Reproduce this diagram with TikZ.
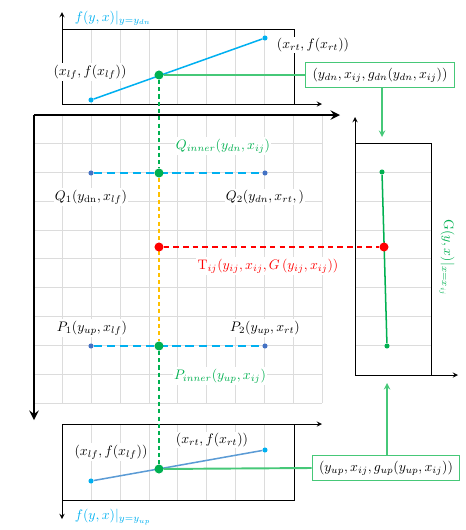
\documentclass[tikz,border=0pt]{standalone}
\usetikzlibrary{backgrounds}
\definecolor{skyb}{RGB}{0,176,240}
\definecolor{lineb}{RGB}{91,155,213}
\definecolor{dotb}{RGB}{68,114,196}
\definecolor{dotg}{RGB}{0,176,80}
\definecolor{boxg}{RGB}{70,200,120}
\definecolor{gold}{RGB}{255,192,0}
\definecolor{gridc}{RGB}{220,220,220}
\tikzset{
  gridl/.style={gridc, line width=0.7pt},
  panel/.style={line width=0.7pt},
  mainax/.style={->, line width=2pt},
  lbl/.style={fill=white, inner sep=1pt},
  bigdot/.style={circle, fill=#1, inner sep=0pt, minimum size=0.23cm},
  smalldot/.style={circle, fill=#1, inner sep=0pt, minimum size=0.13cm},
  gbox/.style={draw=boxg, line width=0.9pt, fill=white, inner xsep=5pt, inner ysep=3pt, minimum height=0.64cm},
  bdash/.style={skyb, line width=1.7pt, dash pattern=on 6pt off 3.5pt},
  vdash/.style={line width=0.8pt, dash pattern=on 3pt off 2.3pt},
}
\begin{document}
\begin{tikzpicture}[>=stealth, x=0.0255cm, y=-0.0255cm]
\useasboundingbox (0,0) rectangle (466,530);

% points
\node[bigdot=dotg](Gdn) at (159,75){};
\node[smalldot=skyb](Alf) at (91,100){};
\node[smalldot=skyb](Art) at (265,38){};
\node[bigdot=dotg](Qin) at (159,173){};
\node[smalldot=dotb](Q1) at (91,173){};
\node[smalldot=dotb](Q2) at (265,173){};
\node[bigdot=red](T) at (159,247){};
\node[bigdot=dotg](Pin) at (159,346){};
\node[smalldot=dotb](P1) at (91,346){};
\node[smalldot=dotb](P2) at (265,346){};
\node[bigdot=dotg](Gup) at (159,469){};
\node[smalldot=skyb](Blf) at (91,481){};
\node[smalldot=skyb](Brt) at (265,450){};
\node[smalldot=dotg](Rtop) at (382,172){};
\node[smalldot=dotg](Rbot) at (387,346){};
\node[bigdot=red](R) at (384,247){};

% labels
\node[text=skyb, anchor=west](fdn) at (70,18){$f(y,x)|_{y=y_{dn}}$};
\node[lbl](Llf) at (90,72){$(x_{lf},f(x_{lf}))$};
\node[lbl](Lrt) at (313,45){$(x_{rt},f(x_{rt}))$};
\node[gbox](gdn) at (380,75){$(y_{dn},x_{ij},g_{dn}(y_{dn},x_{ij}))$};
\node[lbl, text=dotg](LQin) at (223,146){$Q_{inner}(y_{dn},x_{ij})$};
\node[lbl](LQ1) at (91,197){$Q_1(y_{\mathrm{dn}},x_{lf})$};
\node[lbl](LQ2) at (265,197){$Q_2(y_{dn},x_{rt},)$};
\node[lbl, text=red](LT) at (268,266){$\mathrm{T}_{ij}(y_{ij},x_{ij},G\left(y_{ij},x_{ij}\right))$};
\node[lbl](LP1) at (92,328){$P_1(y_{up},x_{lf})$};
\node[lbl](LP2) at (265,328){$P_2(y_{up},x_{rt})$};
\node[lbl, text=dotg](LPin) at (220,376){$P_{inner}(y_{up},x_{ij})$};
\node[lbl](Mlf) at (111,452){$(x_{lf},f(x_{lf}))$};
\node[lbl](Mrt) at (212,440){$(x_{rt},f(x_{rt}))$};
\node[text=skyb, anchor=west](fup) at (70,517){$f(y,x)|_{y=y_{up}}$};
\node[gbox](gup) at (386,468){$(y_{up},x_{ij},g_{up}(y_{up},x_{ij}))$};
\node[text=dotg, rotate=-90](LG) at (447,258){$\mathrm{G}(y,x)|_{x=x_{ij}}$};

\coordinate (Rin) at (382,137);
\coordinate (Rout) at (387,383);

\begin{scope}[on background layer]
% grids
\foreach \x in {91.4,120.2,149.1,177.9,206.8,235.6,264.5}{
  \draw[gridl] (\x,29) -- (\x,104);
  \draw[gridl] (\x,424) -- (\x,500);
}
\foreach \k in {0,...,9}{
  \draw[gridl] (62.5+28.85*\k,115) -- (62.5+28.85*\k,403);
  \draw[gridl] (34,143.5+28.85*\k) -- (322,143.5+28.85*\k);
}
\foreach \k in {1,...,7}{
  \draw[gridl] (355,143.5+28.85*\k) -- (431,143.5+28.85*\k);
}

% top panel
\draw[panel,->] (62,104) -- (62,12);
\draw[panel,->] (62,104) -- (322,104);
\draw[panel] (62,29) -- (294,29) -- (294,104);
% bottom panel
\draw[panel,->] (62,424) -- (62,519);
\draw[panel,->] (62,424) -- (322,424);
\draw[panel] (62,500) -- (294,500) -- (294,424);
% right panel
\draw[panel,->] (355,375) -- (355,117);
\draw[panel,->] (355,375) -- (458,375);
\draw[panel] (355,143) -- (431,143) -- (431,375);
% main axes
\draw[mainax] (34,115) -- (340,115);
\draw[mainax] (34,115) -- (34,420);

% curves
\draw[skyb, line width=1.1pt] (Alf) -- (Art);
\draw[lineb, line width=1.1pt] (Blf) -- (Brt);
\draw[dotg, line width=1.1pt] (Rtop) -- (Rbot);

% connectors
\draw[bdash] (Q1) -- (Q2);
\draw[bdash] (P1) -- (P2);
\draw[vdash, dotg] (Gdn) -- (Qin);
\draw[vdash, gold] (Qin) -- (Pin);
\draw[vdash, dotg] (Pin) -- (Gup);
\draw[red, line width=1.1pt, dash pattern=on 4pt off 3pt] (T) -- (R);
\draw[boxg, line width=1.4pt] (Gdn) -- (gdn.west);
\draw[boxg, line width=1.4pt] (Gup) -- (gup.west);
\draw[->, boxg, line width=1.1pt] (gdn.south -| Rin) -- (Rin);
\draw[->, boxg, line width=1.1pt] (gup.north -| Rout) -- (Rout);
\end{scope}
\end{tikzpicture}
\end{document}
